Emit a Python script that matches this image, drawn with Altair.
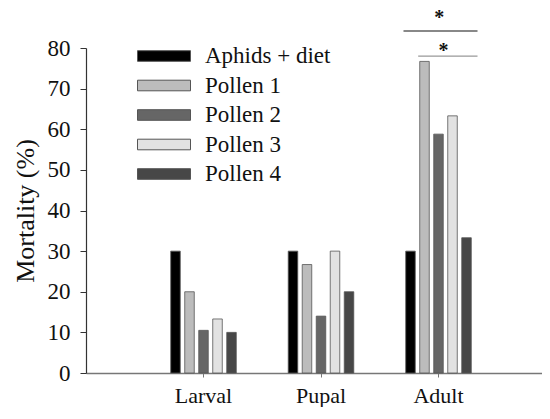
import altair as alt
import pandas as pd

stages = ["Larval", "Pupal", "Adult"]
series = ["Aphids + diet", "Pollen 1", "Pollen 2", "Pollen 3", "Pollen 4"]
larval = [30, 20, 10.5, 13.3, 10]
pupal = [30, 26.7, 14, 30, 20]
adult = [30, 76.7, 58.8, 63.3, 33.3]
colors = ["#000000", "#bcbcbc", "#666666", "#e2e2e2", "#474747"]

rows = []
for stage, vals in zip(stages, [larval, pupal, adult]):
    for s, v in zip(series, vals):
        rows.append({"stage": stage, "series": s, "value": v})
df = pd.DataFrame(rows)

# significance annotations (Adult group)
sig_upper_y = [84.2]
sig_lower_y = [78.0]
star_upper_y = [86.0]
star_lower_y = [77.8]
ann = pd.DataFrame({"stage": ["Adult"], "yu": sig_upper_y, "yl": sig_lower_y,
                    "su": star_upper_y, "sl": star_lower_y, "star": ["*"]})

FONT = "'Times New Roman', 'Liberation Serif', serif"

xscale = alt.Scale(domain=stages, paddingInner=0.404, paddingOuter=0.702)
yscale = alt.Scale(domain=[0, 80], nice=False)

xaxis = alt.Axis(title=None, labelFont=FONT, labelFontSize=22, labelColor="#111",
                 labelAngle=0, tickSize=4, tickColor="#777", domainColor="#777",
                 domainWidth=1.5, labelPadding=8, grid=False)
yaxis = alt.Axis(title="Mortality (%)", titleFont=FONT, titleFontSize=26,
                 titleFontWeight="normal", titleColor="#111", titlePadding=9,
                 labelFont=FONT, labelFontSize=23, labelColor="#111",
                 values=list(range(0, 81, 10)), tickSize=6, tickColor="#333",
                 domainColor="#333", domainWidth=1.2, labelPadding=10, grid=False)

bars = alt.Chart(df).mark_bar(stroke="#555", strokeWidth=0.8).encode(
    x=alt.X("stage:N", scale=xscale, axis=xaxis, sort=stages),
    xOffset=alt.XOffset("series:N", sort=series,
                        scale=alt.Scale(paddingInner=0.32, paddingOuter=0.16)),
    y=alt.Y("value:Q", scale=yscale, axis=yaxis),
    color=alt.Color("series:N", sort=series,
                    scale=alt.Scale(domain=series, range=colors),
                    legend=alt.Legend(title=None, orient="none", legendX=51, legendY=-3.5,
                                      symbolType="M-1,-0.2H1V0.2H-1Z", symbolSize=2809,
                                      symbolStrokeColor="#555", symbolStrokeWidth=1,
                                      symbolOpacity=1, clipHeight=23,
                                      labelFont=FONT, labelFontSize=23, labelColor="#111",
                                      labelOffset=14, rowPadding=5.5, padding=0,
                                      labelLimit=400)),
)

rule_up = alt.Chart(ann).mark_rule(color="#888", strokeWidth=2, x2Offset=4).encode(
    x=alt.X("stage:N", bandPosition=0),
    x2=alt.X2("stage", bandPosition=1),
    y=alt.Y("yu:Q"),
)
rule_lo = alt.Chart(ann).mark_rule(color="#999", strokeWidth=1.2, x2Offset=4).encode(
    x=alt.X("stage:N", bandPosition=0.21),
    x2=alt.X2("stage", bandPosition=1),
    y=alt.Y("yl:Q"),
)
star_up = alt.Chart(ann).mark_text(font=FONT, fontSize=20, fontWeight="bold",
                                   baseline="alphabetic", color="#111").encode(
    x=alt.X("stage:N", bandPosition=0.51),
    y=alt.Y("su:Q"),
    text="star:N",
)
star_lo = alt.Chart(ann).mark_text(font=FONT, fontSize=20, fontWeight="bold",
                                   baseline="alphabetic", color="#111").encode(
    x=alt.X("stage:N", bandPosition=0.57),
    y=alt.Y("sl:Q"),
    text="star:N",
)

chart = alt.layer(bars, rule_up, rule_lo, star_up, star_lo).properties(
    width=470, height=325,
    autosize=alt.AutoSizeParams(type="none"),
    padding={"left": 78, "top": 40, "right": -14, "bottom": 34},
    background="white",
).configure_view(stroke=None)

chart.save("out.html", embed_options={"renderer": "svg", "actions": False})
